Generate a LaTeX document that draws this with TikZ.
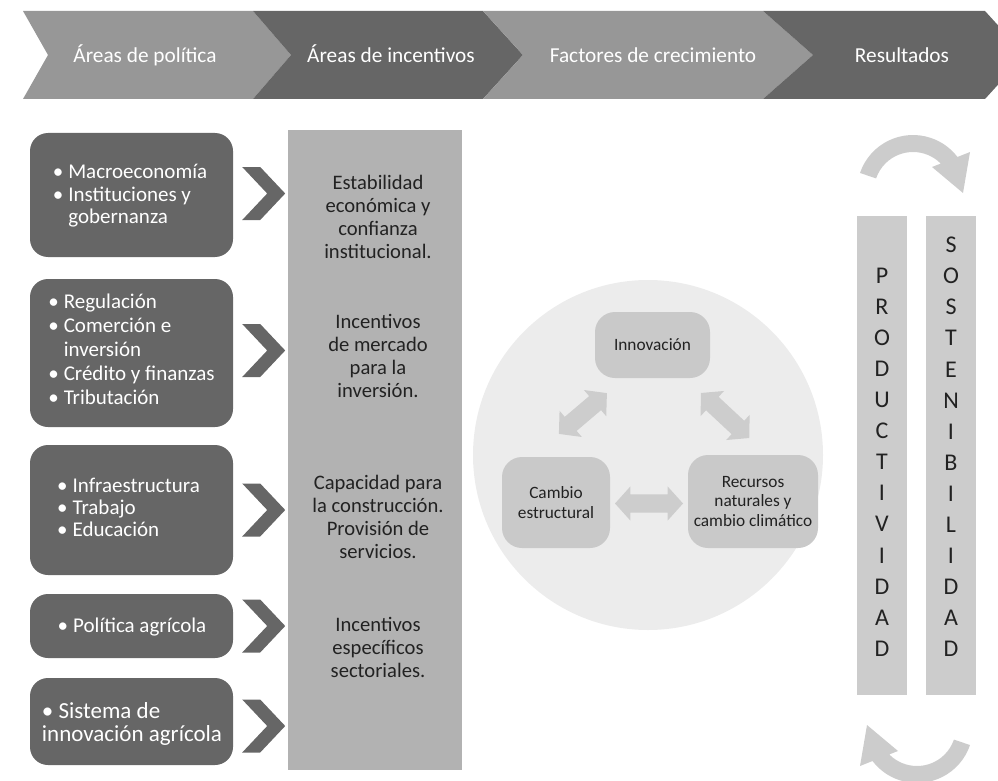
\documentclass[tikz,border=0pt]{standalone}
\usepackage{fontspec}
\setmainfont{Carlito}
\usetikzlibrary{shapes.arrows,calc}

\definecolor{hdrlight}{HTML}{979797}
\definecolor{hdrdark}{HTML}{666666}
\definecolor{boxdark}{HTML}{666666}
\definecolor{colgray}{HTML}{B2B2B2}
\definecolor{circlegray}{HTML}{ECECEC}
\definecolor{innergray}{HTML}{C9C9C9}
\definecolor{arrowgray}{HTML}{CDCDCD}
\definecolor{bargray}{HTML}{CCCCCC}
\definecolor{txtdark}{HTML}{222222}

\tikzset{
  hdrtext/.style={text=white, font=\fontsize{21.3}{25}\selectfont, anchor=base, inner sep=0pt},
  policybox/.style={fill=boxdark, rounded corners=18pt, minimum width=203pt,
    text=white, font=\fontsize{21}{23}\selectfont, inner sep=0pt},
  policytext/.style={text=white, inner sep=0pt},
  coltext/.style={text=txtdark, font=\fontsize{20.6}{23}\selectfont, align=center, inner sep=0pt},
  factorbox/.style={fill=innergray, rounded corners=20pt, text=txtdark,
    font=\fontsize{17.3}{19.5}\selectfont, align=center, inner sep=0pt},
  dblarrow/.style={double arrow, fill=arrowgray, draw=none, inner xsep=0pt, inner ysep=9pt,
    double arrow head extend=8pt, double arrow tip angle=96},
  resultbar/.style={fill=bargray, minimum width=50pt, minimum height=479pt, inner sep=0pt},
  bartext/.style={text=txtdark, font=\fontsize{24}{31.1}\selectfont, align=center, inner sep=0pt},
  chevpic/.pic={\fill[boxdark] (0,-26.5) -- (18,-26.5) -- (43,0) -- (18,26.5) -- (0,26.5) -- (25,0) -- cycle;},
  curvedarrow/.pic={
    \begin{scope}[yscale=-1]
      \fill[bargray] (161.2:56) arc[start angle=161.2, end angle=37.4, radius=56]
        -- (57,39) -- (50,-2) -- (19,24)
        -- (44.7:39) arc[start angle=44.7, end angle=161.2, radius=39] -- cycle;
    \end{scope}}
}

\newcommand{\bulletlist}[1]{\begin{tabular}{@{}l@{\hspace{5pt}}l@{}}#1\end{tabular}}

\begin{document}
\begin{tikzpicture}[x=1pt,y=-1pt]
\useasboundingbox (0,0) rectangle (998,781);
\clip (0,0) rectangle (998,781);

% header chevrons
\fill[hdrlight] (23,11) -- (253,11) -- (291,55) -- (253,99) -- (23,99) -- (48,55) -- cycle;
\fill[hdrdark] (253,11) -- (483,11) -- (523,55) -- (483,99) -- (253,99) -- (291,55) -- cycle;
\fill[hdrlight] (483,11) -- (763,11) -- (813,55) -- (763,99) -- (483,99) -- (523,55) -- cycle;
\fill[hdrdark] (763,11) -- (985,11) -- (1025,55) -- (985,99) -- (763,99) -- (813,55) -- cycle;
\node[hdrtext] (h1) at (145,63) {Áreas de política};
\node[hdrtext] (h2) at (391,63) {Áreas de incentivos};
\node[hdrtext] (h3) at (653,63) {Factores de crecimiento};
\node[hdrtext] (h4) at (902,63) {Resultados};

% policy areas
\node[policybox, minimum height=124pt] (b1) at (131.5,195) {};
\node[policytext, font=\fontsize{21}{22.5}\selectfont] (t1) at (130,196.5)
  {\bulletlist{\textbullet & Macroeconomía\\ \textbullet & Instituciones y\\ & gobernanza}};
\node[policybox, minimum height=148pt] (b2) at (131.5,353) {};
\node[policytext, font=\fontsize{21}{24}\selectfont] (t2) at (131.5,351.5)
  {\bulletlist{\textbullet & Regulación\\ \textbullet & Comerción e\\ & inversión\\ \textbullet & Crédito y finanzas\\ \textbullet & Tributación}};
\node[policybox, minimum height=130pt] (b3) at (131.5,510) {};
\node[policytext, font=\fontsize{21}{22}\selectfont] (t3) at (128.5,510.5)
  {\bulletlist{\textbullet & Infraestructura\\ \textbullet & Trabajo\\ \textbullet & Educación}};
\node[policybox, minimum height=64pt] (b4) at (131.5,626) {};
\node[policytext, font=\fontsize{21}{23}\selectfont] (t4) at (132,627.5)
  {\bulletlist{\textbullet & Política agrícola}};
\node[policybox, minimum height=87pt] (b5) at (131.5,721.5) {};
\node[policytext, font=\fontsize{23}{23}\selectfont] (t5) at (132,725.5)
  {\begin{tabular}{@{}l@{}}\textbullet\ Sistema de\\ innovación agrícola\end{tabular}};

% chevrons leading into the incentive column
\pic at ($(b1.east)+(9,-1.5)$) {chevpic};
\pic at ($(b2.east)+(9,-2.5)$) {chevpic};
\pic at ($(b3.east)+(9,0)$) {chevpic};
\pic at ($(b4.east)+(9,0)$) {chevpic};
\pic at ($(b5.east)+(9,4.5)$) {chevpic};

% incentive column
\node[fill=colgray, minimum width=174pt, minimum height=640pt, inner sep=0pt] (col) at (375,450) {};
\node[coltext] (i1) at (378,216.5) {Estabilidad\\económica y\\confianza\\institucional.};
\node[coltext] (i2) at (378,356) {Incentivos\\de mercado\\para la\\inversión.};
\node[coltext] (i3) at (378,516.5) {Capacidad para\\la construcción.\\Provisión de\\servicios.};
\node[coltext] (i4) at (378,647.5) {Incentivos\\específicos\\sectoriales.};

% growth factors
\node[circle, fill=circlegray, minimum size=350pt, inner sep=0pt] (circ) at (648,455) {};
\node[factorbox, minimum width=115pt, minimum height=66pt] (innov) at (652.5,345) {Innovación};
\node[factorbox, minimum width=108pt, minimum height=91pt] (cambio) at (556,502.5) {Cambio\\estructural};
\node[factorbox, minimum width=130pt, minimum height=93pt] (recursos) at (753,501.5) {Recursos\\naturales y\\cambio climático};

\coordinate (la) at ($(cambio.north)+(3,-23)$);
\coordinate (lb) at ($(innov.south west)+(12,15)$);
\coordinate (ra) at ($(innov.south east)+(-9,15)$);
\coordinate (rb) at ($(recursos.north)+(-4,-17)$);
\coordinate (ha) at ($(cambio.east)+(5,1)$);
\coordinate (hb) at ($(recursos.west)+(-5,2)$);
\path (la) -- (lb) node[midway, sloped, dblarrow, minimum height=63pt] {};
\path (ra) -- (rb) node[midway, sloped, dblarrow, minimum height=66pt] {};
\path (ha) -- (hb) node[midway, sloped, dblarrow, minimum height=68pt] {};

% results
\node[resultbar] (prod) at (882,455.5) {};
\node[resultbar] (sost) at (951,455.5) {};
\node[bartext] (prodtxt) at (882,462) {P\\R\\O\\D\\U\\C\\T\\I\\V\\I\\D\\A\\D};
\node[bartext] (sosttxt) at (951,447) {S\\O\\S\\T\\E\\N\\I\\B\\I\\L\\I\\D\\A\\D};
\pic at (913,191) {curvedarrow};
\pic[rotate=180] at (917,727) {curvedarrow};
\end{tikzpicture}
\end{document}
